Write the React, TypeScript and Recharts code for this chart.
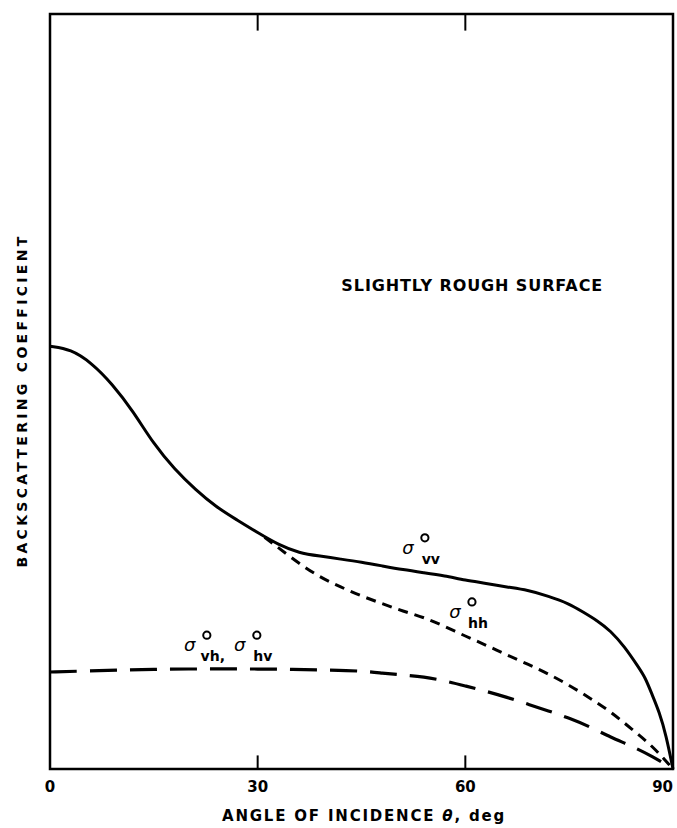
// Backscattering coefficient vs. angle of incidence for a slightly rough surface.
// Three curves: vv (solid), hh (short dash, splits off vv near 31 deg),
// and the cross-polarised vh/hv pair (long dash).

import {
  LineChart,
  Line,
  XAxis,
  YAxis,
  ReferenceArea,
  ReferenceLine,
  ReferenceDot,
} from 'recharts'

const vvAngles = [0, 3, 6, 9, 12, 15, 18, 21, 24, 27, 30, 33, 36, 39, 42, 45, 48, 51, 54, 57, 60, 63, 66, 69, 72, 75, 77, 79, 81, 83, 85, 86, 87, 88, 89, 90]
const vvValues = [56.0, 55.6, 53.8, 51.0, 47.4, 43.0, 39.7, 37.0, 34.7, 33.0, 31.3, 29.7, 28.6, 28.2, 27.8, 27.4, 26.9, 26.4, 26.0, 25.6, 25.0, 24.6, 24.1, 23.7, 22.9, 21.9, 20.8, 19.7, 18.3, 16.2, 13.5, 12.1, 9.8, 7.6, 4.5, 0]

const hhAngles = [31, 33, 36, 39, 42, 45, 48, 51, 54, 57, 60, 63, 66, 69, 72, 75, 78, 81, 84, 87, 90]
const hhValues = [30.7, 29.3, 27.2, 25.4, 24.1, 22.9, 21.9, 20.9, 20.1, 18.9, 17.6, 16.4, 15.1, 13.9, 12.6, 11.1, 9.4, 7.6, 5.3, 3.1, 0]

const crossAngles = [0, 5, 10, 15, 20, 25, 30, 35, 40, 45, 48, 51, 54, 57, 60, 63, 66, 69, 72, 75, 78, 81, 84, 87, 90]
const crossValues = [12.85, 12.98, 13.1, 13.2, 13.25, 13.25, 13.25, 13.2, 13.1, 13.0, 12.7, 12.45, 12.2, 11.7, 11.0, 10.3, 9.5, 8.6, 7.7, 6.75, 5.6, 4.2, 3.05, 1.7, 0]

const xTicks = [0, 30, 60, 90]
const innerTicks = [30, 60]

const FONT = '"DejaVu Sans", sans-serif'
const INK = '#000'

const toPoints = (xs: number[], ys: number[]) => xs.map((x, i) => ({ x, y: ys[i] }))

// Draws sigma with a degree superscript and a subscript, anchored at the sigma.
function SigmaLabel({ viewBox, parts }: { viewBox?: any; parts: string[] }) {
  if (!viewBox) return null
  const cx = viewBox.x + (viewBox.width || 0) / 2
  const cy = viewBox.y + (viewBox.height || 0) / 2
  return (
    <g fill={INK} fontFamily={FONT}>
      {parts.map((sub, i) => {
        const x0 = cx + i * 50
        return (
          <g key={i}>
            <text x={x0} y={cy + 6} fontSize={18} fontStyle="italic" textAnchor="middle">σ</text>
            <circle cx={x0 + 17} cy={cy - 10} r={3.6} fill="none" stroke={INK} strokeWidth={2} />
            <text x={x0 + 23} y={cy + 16} fontSize={14} fontWeight="bold" textAnchor="middle">
              {sub}
            </text>
          </g>
        )
      })}
    </g>
  )
}

// keeps "90" inside the right edge instead of centring it on the tick
function XTick({ x, y, payload }: any) {
  const last = payload.value === 90
  return (
    <text
      x={last ? x + 4 : x}
      y={y + 4}
      dy="0.71em"
      textAnchor={last ? 'end' : 'middle'}
      fontSize={15}
      fontWeight="bold"
      fontFamily={FONT}
      fill={INK}
    >
      {payload.value}
    </text>
  )
}

function YTitle({ viewBox }: { viewBox?: any }) {
  if (!viewBox) return null
  const x = 22
  const y = viewBox.y + viewBox.height / 2 + 9
  return (
    <text
      x={x}
      y={y}
      transform={`rotate(-90 ${x} ${y})`}
      textAnchor="middle"
      dominantBaseline="central"
      fontFamily={FONT}
      fontWeight="bold"
      fontSize={14}
      letterSpacing={3.3}
      fill={INK}
    >
      BACKSCATTERING COEFFICIENT
    </text>
  )
}

function XTitle({ viewBox }: { viewBox?: any }) {
  if (!viewBox) return null
  return (
    <text
      x={364}
      y={821}
      textAnchor="middle"
      fontFamily={FONT}
      fontWeight="bold"
      fontSize={15}
      letterSpacing={1.8}
      fill={INK}
    >
      ANGLE OF INCIDENCE <tspan fontStyle="italic">θ</tspan>, deg
    </text>
  )
}

export default function App() {
  const vv = toPoints(vvAngles, vvValues)
  const hh = toPoints(hhAngles, hhValues)
  const cross = toPoints(crossAngles, crossValues)

  return (
    <div style={{ position: 'absolute', left: 0, top: 0, width: 677, height: 828, background: '#fff', overflow: 'hidden' }}>
      <LineChart width={677} height={828} margin={{ top: 14, right: 4, bottom: 0, left: 0 }}>
        <XAxis
          dataKey="x"
          type="number"
          domain={[0, 90]}
          ticks={xTicks}
          height={59}
          axisLine={false}
          tickLine={false}
          tick={<XTick />}
          label={<XTitle />}
        />
        <YAxis
          type="number"
          domain={[0, 100]}
          width={50}
          axisLine={false}
          tickLine={false}
          tick={false}
          label={<YTitle />}
        />

        {/* frame around the plot */}
        <ReferenceArea x1={0} x2={90} y1={0} y2={100} fill="none" stroke={INK} strokeWidth={2.5} />

        {/* inward tick marks, bottom and top */}
        {innerTicks.map((t) => (
          <ReferenceLine key={'b' + t} segment={[{ x: t, y: 0 }, { x: t, y: 1.8 }]} stroke={INK} strokeWidth={2} />
        ))}
        {innerTicks.map((t) => (
          <ReferenceLine key={'t' + t} segment={[{ x: t, y: 100 }, { x: t, y: 97.8 }]} stroke={INK} strokeWidth={2} />
        ))}

        <Line data={vv} dataKey="y" type="basis" stroke={INK} strokeWidth={3} dot={false} isAnimationActive={false} />
        <Line data={hh} dataKey="y" type="basis" stroke={INK} strokeWidth={3} strokeDasharray="10 7" dot={false} isAnimationActive={false} />
        <Line data={cross} dataKey="y" type="basis" stroke={INK} strokeWidth={3.2} strokeDasharray="27 13" dot={false} isAnimationActive={false} />

        <ReferenceDot
          x={61.0}
          y={64.0}
          r={1}
          fill="none"
          stroke="none"
          label={{
            value: 'SLIGHTLY ROUGH SURFACE',
            position: 'center',
            fontSize: 16,
            fontWeight: 'bold',
            fontFamily: FONT,
            letterSpacing: 0.9,
            fill: INK,
          }}
        />
        <ReferenceDot x={51.7} y={29.3} r={1} fill="none" stroke="none" label={<SigmaLabel parts={['vv']} />} />
        <ReferenceDot x={58.5} y={20.8} r={1} fill="none" stroke="none" label={<SigmaLabel parts={['hh']} />} />
        <ReferenceDot x={20.2} y={16.4} r={1} fill="none" stroke="none" label={<SigmaLabel parts={['vh,', 'hv']} />} />
      </LineChart>
    </div>
  )
}
